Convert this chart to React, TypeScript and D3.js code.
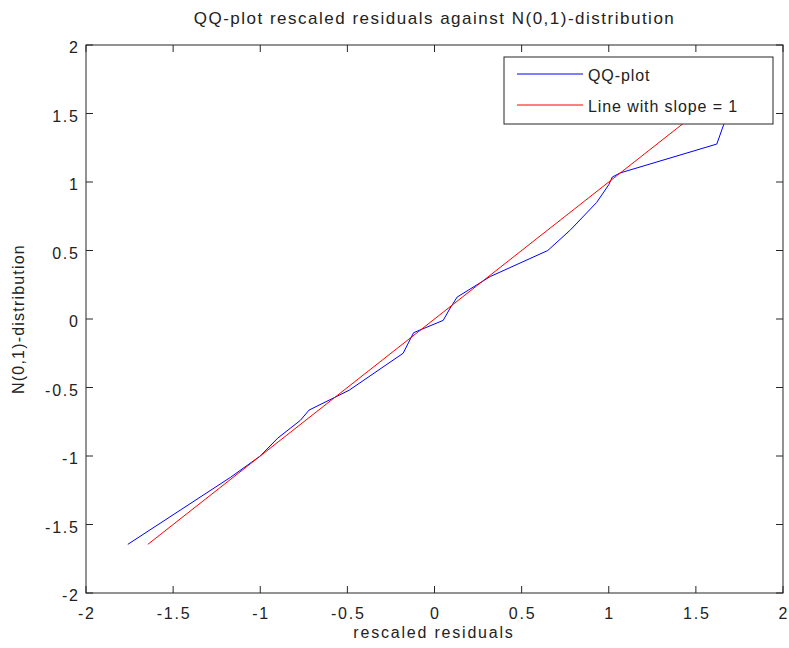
import React from "react";
import * as d3 from "d3";

const qqX = [-1.76, -1.17, -1.0, -0.9, -0.77, -0.72, -0.49, -0.18, -0.12, 0.05, 0.09, 0.13, 0.32, 0.65, 0.78, 0.93, 1.0, 1.02, 1.065, 1.62, 1.66, 1.7];
const qqY = [-1.645, -1.155, -1.0, -0.87, -0.74, -0.665, -0.52, -0.25, -0.1, -0.01, 0.08, 0.16, 0.31, 0.5, 0.65, 0.85, 0.98, 1.036, 1.066, 1.277, 1.42, 1.645];
const refX = [-1.645, 1.645];
const refY = [-1.645, 1.645];
const xTicks = [-2, -1.5, -1, -0.5, 0, 0.5, 1, 1.5, 2];
const yTicks = [-2, -1.5, -1, -0.5, 0, 0.5, 1, 1.5, 2];
const legendLabels = ["QQ-plot", "Line with slope = 1"];
const colors = ["#0000ff", "#ff0000"];

const W = 789, H = 648;
const L = 86, R = 783, T = 45, B = 593;
const FONT = "'Liberation Sans', Arial, sans-serif";

export default function App() {
  const x = d3.scaleLinear().domain([-2, 2]).range([L, R]);
  const y = d3.scaleLinear().domain([-2, 2]).range([B, T]);
  const line = d3.line<[number, number]>().x(d => x(d[0])).y(d => y(d[1]));
  const qq: [number, number][] = qqX.map((v, i) => [v, qqY[i]]);
  const ref: [number, number][] = refX.map((v, i) => [v, refY[i]]);
  const tl = 7;
  const ts = 1.8;
  const fmt = (v: number) => String(v);
  return (
    <svg width={W} height={H} style={{ position: "absolute", left: 0, top: 0, background: "#fff" }} fontFamily={FONT}>
      <rect x={0} y={0} width={W} height={H} fill="#fff" />
      <path d={line(qq) || ""} fill="none" stroke={colors[0]} strokeWidth={1} />
      <path d={line(ref) || ""} fill="none" stroke={colors[1]} strokeWidth={1} />
      <rect x={L} y={T} width={R - L} height={B - T} fill="none" stroke="#262626" strokeWidth={1} />
      {xTicks.map((t, i) => (
        <g key={"x" + i}>
          <line x1={x(t)} x2={x(t)} y1={B} y2={B - tl} stroke="#262626" />
          <line x1={x(t)} x2={x(t)} y1={T} y2={T + tl} stroke="#262626" />
          <text x={x(t) + ts / 2} y={619} textAnchor="middle" fontSize={16} fill="#222" letterSpacing={ts}>{fmt(t)}</text>
        </g>
      ))}
      {yTicks.map((t, i) => (
        <g key={"y" + i}>
          <line x1={L} x2={L + tl} y1={y(t)} y2={y(t)} stroke="#262626" />
          <line x1={R} x2={R - tl} y1={y(t)} y2={y(t)} stroke="#262626" />
          <text x={78 + ts} y={y(t) + 8} textAnchor="end" fontSize={16} fill="#222" letterSpacing={ts}>{fmt(t)}</text>
        </g>
      ))}
      <g>
        <rect x={504} y={57} width={269} height={67} fill="#fff" stroke="#262626" strokeWidth={1} />
        {legendLabels.map((lab, i) => (
          <g key={lab}>
            <line x1={517} x2={583} y1={74 + i * 31} y2={74 + i * 31} stroke={colors[i]} strokeWidth={1} />
            <text x={588} y={81 + i * 31} fontSize={16} fill="#222" letterSpacing={0.9}>{lab}</text>
          </g>
        ))}
      </g>
      <text x={(L + R) / 2} y={24} textAnchor="middle" fontSize={17} fill="#222" letterSpacing={1.5}>QQ-plot rescaled residuals against N(0,1)-distribution</text>
      <text x={434} y={638} textAnchor="middle" fontSize={16} fill="#222" letterSpacing={1.8}>rescaled residuals</text>
      <text transform={`translate(24,${(T + B) / 2}) rotate(-90)`} textAnchor="middle" fontSize={16} fill="#222" letterSpacing={1.2}>N(0,1)-distribution</text>
    </svg>
  );
}
